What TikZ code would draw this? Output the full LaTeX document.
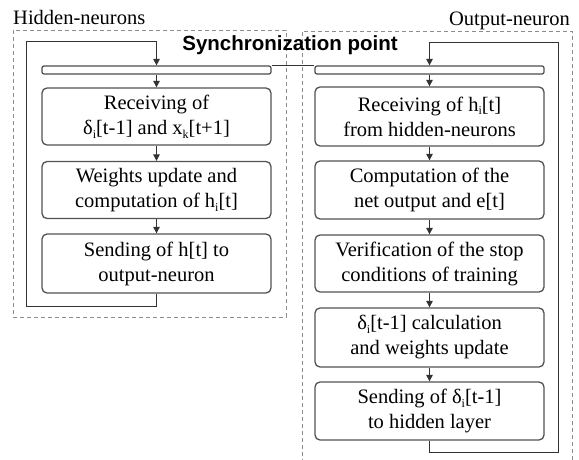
\documentclass[tikz,border=0pt]{standalone}
\usepackage{fontspec}
\setmainfont{Liberation Serif}
\setsansfont{Liberation Sans}
\usetikzlibrary{arrows.meta}
\newcommand\lo[1]{\raisebox{-0.4ex}{\fontsize{12}{12}\selectfont #1}}
\tikzset{
  stepbox/.style={draw=black!68, line width=1.3pt, rounded corners=5pt,
    minimum width=229pt, minimum height=57pt, inner sep=0pt,
    align=center, font=\fontsize{20.5}{25}\selectfont},
  barbox/.style={draw=black!70, line width=1.2pt, rounded corners=2pt,
    minimum width=229pt, minimum height=8pt, inner sep=0pt},
  group/.style={draw=black!45, dashed, dash pattern=on 4pt off 3pt, line width=0.9pt},
  flow/.style={draw=black!80, line width=1pt, -{Triangle[length=6.5pt,width=6.5pt]}},
  link/.style={draw=black!80, line width=1pt},
  caption/.style={font=\fontsize{20.5}{24}\selectfont, inner sep=0pt}
}
\begin{document}
\begin{tikzpicture}[x=1pt, y=-1pt]
\useasboundingbox (0,0) rectangle (579,460);

% group frames
\draw[group] (13,30) rectangle (286,317);
\draw[group] (302,470) -- (302,31) -- (572,31) -- (572,470);
\node[caption, anchor=base west] (hidlabel) at (13,25) {Hidden-neurons};
\node[caption, anchor=base east] (outlabel) at (570,26) {Output-neuron};

% synchronization bars
\node[barbox] (hbar) at (156.5,70) {};
\node[barbox] (obar) at (429.5,70) {};
\draw[link] (hbar.north east) -- (obar.north west);
\node[font=\sffamily\bfseries\fontsize{20.5}{24}\selectfont, inner sep=0pt] (sync) at (290,45) {Synchronization point};

% hidden-neuron steps
\node[stepbox] (h1) at (156.5,116.5) {Receiving of\\ δ\lo{i}[t-1] and x\lo{k}[t+1]};
\node[stepbox] (h2) at (156.5,190) {Weights update and\\ computation of h\lo{i}[t]};
\node[stepbox, minimum height=59pt] (h3) at (156.5,263.5) {Sending of h[t] to\\ output-neuron};

% output-neuron steps
\node[stepbox, minimum height=59pt] (o1) at (429.5,116.5) {Receiving of h\lo{i}[t]\\ from hidden-neurons};
\node[stepbox, minimum height=58pt] (o2) at (429.5,190) {Computation of the\\ net output and e[t]};
\node[stepbox] (o3) at (429.5,263.5) {Verification of the stop\\ conditions of training};
\node[stepbox, minimum height=59pt] (o4) at (429.5,337.5) {δ\lo{i}[t-1] calculation\\ and weights update};
\node[stepbox, minimum height=58pt] (o5) at (429.5,411) {Sending of δ\lo{i}[t-1]\\ to hidden layer};

% loop corners
\coordinate (hl1) at (156.5,306);
\coordinate (hl2) at (26,306);
\coordinate (hl3) at (26,42);
\coordinate (hl4) at (156.5,42);
\coordinate (ol1) at (429.5,452);
\coordinate (ol2) at (558,452);
\coordinate (ol3) at (558,43);
\coordinate (ol4) at (429.5,43);

% hidden loop
\draw[flow] (h3.south) -- (hl1) -- (hl2) -- (hl3) -- (hl4) -- (hbar.north);
\draw[flow] (hbar.south) -- (h1.north);
\draw[flow] (h1.south) -- (h2.north);
\draw[flow] (h2.south) -- (h3.north);

% output loop
\draw[flow] (o5.south) -- (ol1) -- (ol2) -- (ol3) -- (ol4) -- (obar.north);
\draw[flow] (obar.south) -- (o1.north);
\draw[flow] (o1.south) -- (o2.north);
\draw[flow] (o2.south) -- (o3.north);
\draw[flow] (o3.south) -- (o4.north);
\draw[flow] (o4.south) -- (o5.north);
\end{tikzpicture}
\end{document}
